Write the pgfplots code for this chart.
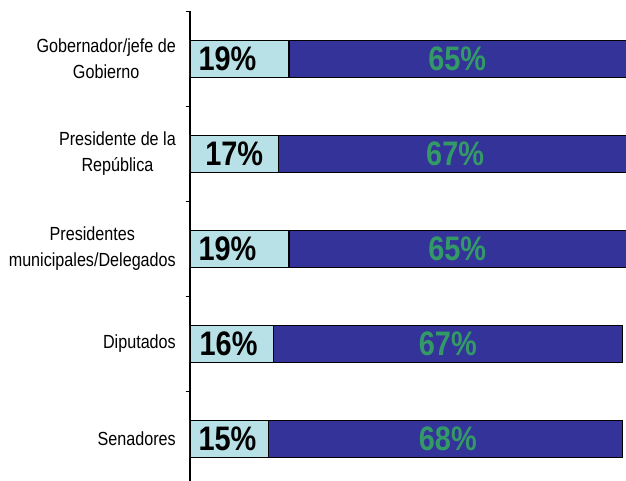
\documentclass[border=0pt]{standalone}
\usepackage{pgfplots}
\pgfplotsset{compat=1.18}
\usepackage{fontspec}
\setmainfont{Liberation Sans}
\newfontfamily\condfont[FakeStretch=0.85]{Liberation Sans}
\definecolor{lightc}{RGB}{183,225,230}
\definecolor{darkb}{RGB}{51,51,153}
\definecolor{greenl}{RGB}{51,153,102}
\pgfplotsset{common/.style={
  scale only axis,
  width=436pt, height=475pt,
  xmin=0, xmax=83.7,
  ymin=0.5, ymax=5.5,
}}
\begin{document}
\begin{tikzpicture}
\begin{axis}[
  common,
  xbar stacked,
  bar width=37.5pt,
  axis x line=none,
  axis y line*=left,
  axis line style={line width=1.2pt, black},
  ytick={1,2,3,4,5},
  yticklabels={Senadores, Diputados, {Presidentes\\municipales/Delegados}, {Presidente de la\\República}, {Gobernador/jefe de\\Gobierno}},
  yticklabel style={align=center, font=\condfont\fontsize{19}{26}\selectfont, inner sep=0pt, xshift=-14pt},
  major tick length=0pt,
  minor ytick={0.5,1.5,...,5.5},
  minor tick length=4pt,
  tick align=outside,
  tick style={line width=1pt, black},
]
\addplot[fill=lightc, draw=black, line width=1.1pt] coordinates {(15,1) (16,2) (19,3) (17,4) (19,5)};
\addplot[fill=darkb, draw=black, line width=1.1pt] coordinates {(68,1) (67,2) (65,3) (67,4) (65,5)};
\end{axis}
\begin{axis}[
  common,
  hide axis,
  clip=false,
  nodes near coords,
  point meta=explicit symbolic,
  every node near coord/.append style={anchor=center, font=\condfont\bfseries\fontsize{34}{34}\selectfont},
]
\addplot[only marks, mark=none, every node near coord/.append style={text=black}] coordinates {(7.2,5) [19\%] (8.5,4) [17\%] (7.2,3) [19\%] (7.4,2) [16\%] (7.2,1) [15\%]};
\addplot[only marks, mark=none, every node near coord/.append style={text=greenl}] coordinates {(51.3,5) [65\%] (50.9,4) [67\%] (51.3,3) [65\%] (49.5,2) [67\%] (49.5,1) [68\%]};
\end{axis}
\pgfresetboundingbox
\path[use as bounding box] (-190pt,5.5pt) rectangle (436pt,486.5pt);
\end{tikzpicture}
\end{document}
